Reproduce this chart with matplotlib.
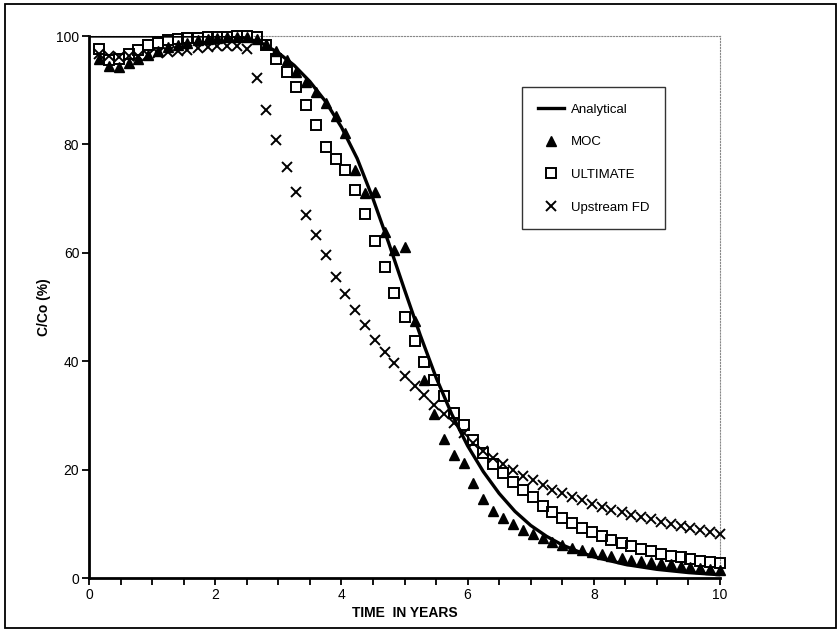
import matplotlib
matplotlib.use("Agg")
import matplotlib.pyplot as plt
from matplotlib.patches import Rectangle
from matplotlib.ticker import MultipleLocator

plt.rcParams['font.family'] = ['Liberation Sans', 'DejaVu Sans']

# sample times of the numerical models (years)
TIME = [0.16, 0.31, 0.47, 0.63, 0.78, 0.94, 1.09, 1.25,
        1.41, 1.56, 1.72, 1.88, 2.03, 2.19, 2.34, 2.50,
        2.66, 2.81, 2.97, 3.13, 3.28, 3.44, 3.59, 3.75,
        3.91, 4.06, 4.22, 4.38, 4.53, 4.69, 4.84, 5.00,
        5.16, 5.31, 5.47, 5.63, 5.78, 5.94, 6.09, 6.25,
        6.41, 6.56, 6.72, 6.88, 7.03, 7.19, 7.34, 7.50,
        7.66, 7.81, 7.97, 8.13, 8.28, 8.44, 8.59, 8.75,
        8.91, 9.06, 9.22, 9.38, 9.53, 9.69, 9.84, 10.00]

MOC = [95.7, 94.4, 94.2, 95.0, 95.7, 96.5, 97.2, 97.9,
       98.4, 98.8, 99.2, 99.5, 99.7, 99.8, 99.9, 99.9,
       99.5, 98.6, 97.2, 95.5, 93.4, 91.5, 89.7, 87.7,
       85.3, 82.1, 75.3, 71.1, 71.3, 63.8, 60.6, 61.1,
       47.4, 36.5, 30.3, 25.6, 22.7, 21.2, 17.6, 14.6,
       12.4, 11.0, 9.9, 8.9, 8.1, 7.3, 6.7, 6.1,
       5.6, 5.2, 4.8, 4.4, 4.0, 3.7, 3.4, 3.1,
       2.9, 2.7, 2.5, 2.3, 2.1, 1.9, 1.7, 1.5]

ULTIMATE = [97.6, 95.5, 95.8, 96.6, 97.4, 98.3, 98.8, 99.2,
            99.4, 99.6, 99.7, 99.8, 99.9, 99.9, 100.0, 100.0,
            99.8, 98.3, 95.7, 93.3, 90.5, 87.2, 83.5, 79.6,
            77.3, 75.2, 71.6, 67.1, 62.1, 57.4, 52.6, 48.1,
            43.8, 39.9, 36.6, 33.5, 30.5, 28.2, 25.5, 23.0,
            21.1, 19.4, 17.8, 16.2, 14.9, 13.3, 12.1, 11.0,
            10.1, 9.2, 8.5, 7.7, 7.0, 6.4, 5.9, 5.4,
            4.9, 4.5, 4.1, 3.8, 3.5, 3.2, 3.0, 2.8]

UPSTREAM_FD = [96.6, 96.3, 96.2, 96.3, 96.4, 96.5, 96.8, 97.0,
               97.3, 97.5, 97.7, 97.9, 98.1, 98.2, 98.2, 97.6,
               92.3, 86.4, 80.9, 75.8, 71.3, 67.0, 63.2, 59.6,
               55.6, 52.4, 49.4, 46.6, 44.0, 41.7, 39.6, 37.2,
               35.4, 33.7, 31.9, 30.2, 28.6, 26.8, 25.0, 23.5,
               22.2, 21.0, 19.9, 18.9, 18.0, 17.1, 16.3, 15.6,
               14.9, 14.3, 13.7, 13.1, 12.6, 12.1, 11.6, 11.2,
               10.8, 10.4, 10.0, 9.6, 9.2, 8.9, 8.5, 8.2]

# analytical solution
ANA_T = [0.0, 2.25, 2.5, 2.75, 3.0, 3.25, 3.5, 3.75, 4.0, 4.25, 4.5, 4.75,
         5.0, 5.25, 5.5, 5.75, 6.0, 6.25, 6.5, 6.75, 7.0, 7.25, 7.5, 7.75,
         8.0, 8.5, 9.0, 9.5, 10.0]
ANA_C = [100, 100, 99.6, 98.6, 96.9, 94.6, 91.6, 87.9, 83.2, 77.4, 70.0, 61.8,
         53.2, 44.8, 37.0, 30.2, 24.4, 19.6, 15.6, 12.3, 9.7, 7.7, 6.1, 4.9,
         3.9, 2.5, 1.6, 1.0, 0.6]

fig = plt.figure(figsize=(8.4, 6.32), dpi=100)
fig.patches.append(Rectangle((5 / 840, 4 / 632), 831 / 840, 624 / 632,
                             transform=fig.transFigure, fill=False,
                             edgecolor='black', linewidth=1.3))
ax = fig.add_axes([89 / 840, 54 / 632, 631 / 840, 542 / 632])

ax.plot(ANA_T, ANA_C, color='black', lw=2.4, label='Analytical', zorder=4,
        solid_joinstyle='round')
ax.plot(TIME, MOC, ls='none', marker='^', ms=7, color='black',
        label='MOC', clip_on=False, zorder=3)
ax.plot(TIME, ULTIMATE, ls='none', marker='s', ms=7, mfc='none',
        mec='black', mew=1.4, label='ULTIMATE', clip_on=False, zorder=3)
ax.plot(TIME, UPSTREAM_FD, ls='none', marker='x', ms=7, color='black',
        mew=1.4, label='Upstream FD', clip_on=False, zorder=3)

ax.set_xlim(0, 10)
ax.set_ylim(0, 100)
ax.xaxis.set_major_locator(MultipleLocator(2))
ax.xaxis.set_minor_locator(MultipleLocator(0.5))
ax.yaxis.set_major_locator(MultipleLocator(20))
ax.tick_params(axis='both', which='both', direction='out', length=5,
               width=1.3, labelsize=10, color='black', pad=2)
ax.tick_params(axis='y', which='minor', left=False)

for side in ('left', 'bottom'):
    ax.spines[side].set_linewidth(2.0)
for side in ('top', 'right'):
    ax.spines[side].set_linestyle(':')
    ax.spines[side].set_color('#888888')
    ax.spines[side].set_linewidth(0.8)

ax.set_xlabel('TIME  IN YEARS', fontsize=10, fontweight='bold', labelpad=3)
ax.set_ylabel('C/Co (%)', fontsize=10, fontweight='bold', labelpad=4)

leg = ax.legend(loc='upper left', bbox_to_anchor=(0.686, 0.905),
                frameon=True, fancybox=False, edgecolor='black',
                fontsize=9.5, handlelength=2.0, handletextpad=0.5,
                labelspacing=1.55, borderpad=1.2, borderaxespad=0)
leg.get_frame().set_linewidth(1.0)

fig.savefig('out.png', dpi=100)
